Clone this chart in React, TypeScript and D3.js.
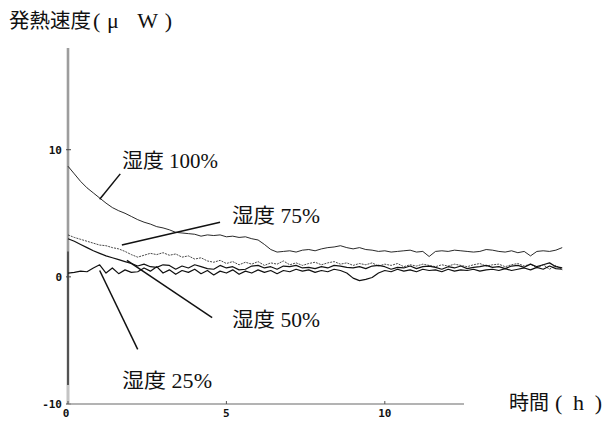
import React from "react";
import * as d3 from "d3";

// time step of the recorded traces (hours)
const STEP_H = 0.2;

const humid100 = [8.7, 8.1, 7.5, 7.0, 6.6, 6.2, 5.8, 5.45, 5.2, 5.0,
  4.75, 4.5, 4.3, 4.15, 3.95, 3.85, 3.7, 3.5, 3.45, 3.4,
  3.35, 3.2, 3.3, 3.25, 3.3, 3.15, 3.2, 3.1, 3.15, 3.0,
  2.9, 2.55, 2.15, 1.95, 2.0, 2.05, 1.95, 2.1, 2.15, 2.05,
  2.2, 2.3, 2.35, 2.45, 2.3, 2.2, 2.3, 2.15, 2.1, 2.0,
  2.05, 1.95, 2.0, 2.05, 2.1, 1.95, 2.0, 1.6, 2.0, 2.05,
  2.0, 2.1, 2.05, 2.0, 1.95, 2.0, 2.15, 2.1, 2.0, 1.95,
  2.05, 1.9, 2.0, 1.65, 2.0, 2.05, 2.0, 2.1, 2.3];

const humid75 = [3.3, 3.1, 2.95, 2.8, 2.65, 2.5, 2.45, 2.3, 2.2, 2.0,
  1.75, 1.55, 1.7, 1.85, 1.75, 1.9, 1.7, 1.8, 1.55, 1.65,
  1.4, 1.5, 1.25, 1.15, 1.3, 1.05, 1.2, 0.95, 1.15, 1.0,
  1.2, 0.9, 1.1, 1.0, 1.25, 0.95, 1.1, 0.9, 1.05, 1.15,
  0.95, 1.1, 1.2, 1.0, 1.1, 0.9, 1.05, 0.95, 1.1, 0.85,
  1.0, 0.9, 1.05, 0.8, 0.95, 0.85, 1.0, 0.9, 0.8, 0.95,
  0.85, 1.0, 0.9, 0.8, 0.95, 1.05, 0.85, 0.95, 1.0, 0.8,
  0.95, 1.05, 0.85, 1.0, 0.7, 0.95, 0.6, 0.9, 0.55];

const humid50 = [3.0, 2.8, 2.55, 2.3, 2.05, 1.85, 1.65, 1.5, 1.35, 1.2,
  1.05, 0.85, 1.0, 0.8, 0.75, 0.95, 0.9, 0.6, 0.85, 0.7,
  0.95, 0.8, 0.65, 0.6, 0.9, 0.7, 0.8, 0.55, 0.6, 0.85,
  0.9, 0.7, 0.8, 0.6, 0.85, 0.8, 0.9, 0.7, 0.75, 0.65,
  0.8, 0.7, 0.9, 0.85, 0.75, 0.7, 0.8, 0.65, 0.85, 0.9,
  0.8, 0.6, 0.75, 0.7, 0.85, 0.65, 0.8, 0.85, 0.75, 0.6,
  0.8, 0.7, 0.85, 0.65, 0.75, 0.8, 0.9, 0.75, 0.8, 0.65,
  0.85, 0.9, 0.75, 1.0, 0.8, 0.95, 1.1, 0.8, 0.7];

const humid25 = [0.3, 0.35, 0.45, 0.4, 0.7, 0.95, 0.3, 0.7, 0.25, 0.55,
  0.35, 0.4, 0.7, 0.45, 0.8, 0.3, 0.55, 0.2, 0.5, 0.35,
  0.6, 0.25, 0.5, 0.15, 0.45, 0.3, 0.55, 0.2, 0.45, 0.3,
  0.55, 0.35, 0.5, 0.25, 0.5, 0.4, 0.6, 0.45, 0.55, 0.35,
  0.5, 0.4, 0.6, 0.5, 0.3, -0.1, -0.3, -0.2, -0.05, 0.3,
  0.5, 0.4, 0.6, 0.45, 0.55, 0.4, 0.6, 0.5, 0.55, 0.4,
  0.6, 0.45, 0.55, 0.5, 0.6, 0.45, 0.55, 0.6, 0.5, 0.65,
  0.5, 0.6, 0.7, 0.55, 0.75, 0.6, 0.85, 0.65, 0.6];

const yTicks = [10, 0, -10];
const xTicks = [0, 5, 10];

const seriesNames = ["湿度 100%", "湿度 75%", "湿度 50%", "湿度 25%"];

const W = 604;
const H = 421;

const x = d3.scaleLinear().domain([0, 12.5]).range([68, 464]);
const y = d3.scaleLinear().domain([-10, 18]).range([404, 48]);

const line = d3
  .line<number>()
  .x((_, i) => x(i * STEP_H))
  .y((d) => y(d));

const CJK = "'Noto Sans CJK JP', sans-serif";
const MIX = "'Liberation Serif', 'Noto Sans CJK JP', serif";
const MONO = "'DejaVu Sans Mono', monospace";

export default function App() {
  const series = [
    { name: seriesNames[0], data: humid100, w: 0.9, dash: undefined as string | undefined, color: "#111" },
    { name: seriesNames[1], data: humid75, w: 0.9, dash: "2 1", color: "#333" },
    { name: seriesNames[2], data: humid50, w: 1.2, dash: undefined, color: "#111" },
    { name: seriesNames[3], data: humid25, w: 1.2, dash: undefined, color: "#111" },
  ];

  // label placement (value-space anchors for leader lines)
  const labels = [
    { text: seriesNames[0], tx: 122, ty: 168, len: 96, from: [1.0, 6.1], to: [1.65, 8.1] },
    { text: seriesNames[1], tx: 232, ty: 223, len: 88, from: [1.7, 2.5], to: [4.8, 4.3] },
    { text: seriesNames[2], tx: 232, ty: 327, len: 88, from: [1.86, 1.3], to: [4.55, -3.2] },
    { text: seriesNames[3], tx: 122, ty: 388, len: 90, from: [1.0, 0.5], to: [2.2, -5.7] },
  ];

  return (
    <svg
      width={W}
      height={H}
      style={{ position: "absolute", left: 0, top: 0, background: "#fff" }}
    >
      <rect x={0} y={0} width={W} height={H} fill="#fff" />

      {/* y axis */}
      <line x1={x(0)} x2={x(0)} y1={y(18)} y2={y(-10)} stroke="#c4c4c4" strokeWidth={3} />
      <line x1={x(0)} x2={x(0)} y1={y(18)} y2={y(-8.5)} stroke="#777" strokeWidth={1} />
      <line x1={x(0)} x2={x(0)} y1={y(2)} y2={y(-8.5)} stroke="#222" strokeWidth={1.2} />
      {yTicks.map((t) => (
        <g key={"yt" + t}>
          <line x1={x(0) - 2} x2={x(0) + 3} y1={y(t)} y2={y(t)} stroke="#444" strokeWidth={1} />
          <text
            x={x(0) - 6}
            y={y(t) + 4}
            textAnchor="end"
            fontFamily={MONO}
            fontWeight="bold"
            fontSize={11}
            fill="#111"
          >
            {t}
          </text>
        </g>
      ))}

      {/* x axis */}
      <line x1={x(0)} x2={x(12.5)} y1={y(-10)} y2={y(-10)} stroke="#9a9a9a" strokeWidth={1.3} />
      {xTicks.map((t) => (
        <g key={"xt" + t}>
          <line x1={x(t)} x2={x(t)} y1={y(-10) - 3} y2={y(-10)} stroke="#555" strokeWidth={1} />
          <text
            x={x(t) - (t === 0 ? 2 : 0)}
            y={y(-10) + 13}
            textAnchor="middle"
            fontFamily={MONO}
            fontWeight="bold"
            fontSize={11}
            fill="#111"
          >
            {t}
          </text>
        </g>
      ))}

      {/* traces */}
      {series.map((s) => (
        <path
          key={s.name}
          d={line(s.data) || ""}
          fill="none"
          stroke={s.color}
          strokeWidth={s.w}
          strokeDasharray={s.dash}
          strokeLinejoin="round"
        />
      ))}

      {/* leader lines and labels */}
      {labels.map((l) => (
        <g key={"lab" + l.text}>
          <line
            x1={x(l.from[0])}
            y1={y(l.from[1])}
            x2={x(l.to[0])}
            y2={y(l.to[1])}
            stroke="#111"
            strokeWidth={1.5}
          />
          <text
            x={l.tx}
            y={l.ty}
            fontFamily={MIX}
            fontSize={20}
            fill="#111"
            textLength={l.len}
            lengthAdjust="spacingAndGlyphs"
          >
            {l.text}
          </text>
        </g>
      ))}

      {/* axis titles */}
      <text x={9} y={28} fontFamily={CJK} fontSize={20.5} fill="#111">
        発熱速度
      </text>
      <text
        x={93}
        y={28}
        fontFamily={MIX}
        fontSize={22}
        fill="#111"
        textLength={79}
        lengthAdjust="spacing"
      >
        (μ W)
      </text>
      <text x={509} y={410} fontFamily={CJK} fontSize={20} fill="#111">
        時間
      </text>
      <text
        x={555}
        y={410}
        fontFamily={MIX}
        fontSize={22}
        fill="#111"
        textLength={47}
        lengthAdjust="spacing"
      >
        ( h )
      </text>
    </svg>
  );
}
